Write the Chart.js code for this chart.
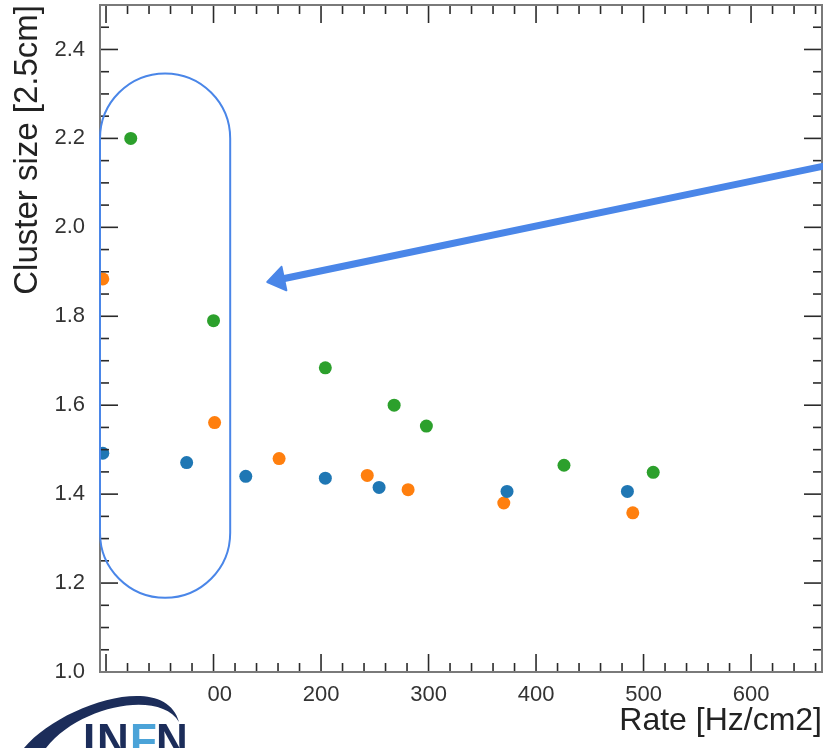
<!DOCTYPE html>
<html>
<head>
<meta charset="utf-8">
<script src="https://cdn.jsdelivr.net/npm/chart.js@4/dist/chart.umd.min.js"></script>
<style>
  html, body { margin: 0; padding: 0; background: #fff; }
  #wrap { width: 823px; height: 748px; }
</style>
</head>
<body>
<div id="wrap"><canvas id="clusterChart" width="823" height="748"></canvas></div>
<script>
// cluster size vs rate, three chambers
const blueRate = [-3, 75, 130, 204, 254, 373, 485];
const blueSize = [1.492, 1.471, 1.440, 1.436, 1.415, 1.406, 1.406];
const orangeRate = [-3, 101, 161, 243, 281, 370, 490];
const orangeSize = [1.884, 1.561, 1.480, 1.442, 1.410, 1.380, 1.358];
const greenRate = [23, 100, 204, 268, 298, 426, 509];
const greenSize = [2.200, 1.790, 1.684, 1.600, 1.553, 1.465, 1.449];

const xRange = [-5.6, 666];
const yRange = [1.0, 2.5];

// highlight box around the low-rate points and the arrow pointing at it (data units)
const ovalX = [-5.6, 115.5];
const ovalY = [1.167, 2.346];
const arrowFrom = [672, 2.14];
const arrowTo = [150, 1.877];

const FONT = '"Liberation Sans", Arial, Helvetica, sans-serif';

function toPoints(xs, ys) {
    return xs.map((x, i) => ({ x: x, y: ys[i] }));
}

function line(ctx, x1, y1, x2, y2) {
    ctx.beginPath();
    ctx.moveTo(x1, y1);
    ctx.lineTo(x2, y2);
    ctx.stroke();
}

// ROOT style frame with ticks on all four sides
const frameTicks = {
    id: 'frameTicks',
    afterDatasetsDraw(chart) {
        const { ctx, chartArea: a, scales: { x, y } } = chart;
        ctx.save();
        ctx.strokeStyle = '#2a2a2a';
        ctx.lineWidth = 1.6;
        x.ticks.forEach(t => {
            const px = x.getPixelForValue(t.value);
            const len = Math.round(t.value) % 100 === 0 ? 18 : 9;
            line(ctx, px, a.bottom, px, a.bottom - len);
            line(ctx, px, a.top, px, a.top + len);
        });
        y.ticks.forEach(t => {
            const py = y.getPixelForValue(t.value);
            const len = Math.round(t.value * 100) % 20 === 0 ? 18 : 9;
            line(ctx, a.left, py, a.left + len, py);
            line(ctx, a.right, py, a.right - len, py);
        });
        ctx.strokeStyle = '#7a7a7a';
        ctx.lineWidth = 2;
        ctx.strokeRect(a.left, a.top, a.right - a.left, a.bottom - a.top);
        ctx.restore();
    }
};

const overlay = {
    id: 'overlay',
    afterDraw(chart) {
        const { ctx, scales: { x, y } } = chart;
        ctx.save();

        // rounded highlight
        const l = x.getPixelForValue(ovalX[0]), r = x.getPixelForValue(ovalX[1]);
        const t = y.getPixelForValue(ovalY[1]), b = y.getPixelForValue(ovalY[0]);
        const rad = (r - l) / 2;
        ctx.strokeStyle = '#4a86e8';
        ctx.lineWidth = 2;
        ctx.beginPath();
        ctx.arc(l + rad, t + rad, rad, Math.PI, 0);
        ctx.lineTo(r, b - rad);
        ctx.arc(l + rad, b - rad, rad, 0, Math.PI);
        ctx.closePath();
        ctx.stroke();

        // arrow
        const x1 = x.getPixelForValue(arrowFrom[0]), y1 = y.getPixelForValue(arrowFrom[1]);
        const x2 = x.getPixelForValue(arrowTo[0]), y2 = y.getPixelForValue(arrowTo[1]);
        const ang = Math.atan2(y2 - y1, x2 - x1);
        const head = 17, half = 12;
        const bx = x2 - head * Math.cos(ang), by = y2 - head * Math.sin(ang);
        ctx.strokeStyle = '#4a86e8';
        ctx.fillStyle = '#4a86e8';
        ctx.lineWidth = 7;
        line(ctx, x1, y1, bx + 2 * Math.cos(ang), by + 2 * Math.sin(ang));
        ctx.lineJoin = 'round';
        ctx.lineWidth = 2;
        ctx.beginPath();
        ctx.moveTo(x2, y2);
        ctx.lineTo(bx + half * Math.sin(ang), by - half * Math.cos(ang));
        ctx.lineTo(bx - half * Math.sin(ang), by + half * Math.cos(ang));
        ctx.closePath();
        ctx.fill();
        ctx.stroke();

        // INFN logo in the lower left corner
        ctx.fillStyle = '#ffffff';
        ctx.fillRect(0, 679, 207, 69);
        ctx.fillStyle = '#1c2d5a';
        ctx.beginPath();
        ctx.moveTo(24, 748);
        ctx.bezierCurveTo(60, 705, 165, 670, 179, 722);
        ctx.bezierCurveTo(160, 690, 80, 705, 46, 748);
        ctx.closePath();
        ctx.fill();
        ctx.font = 'bold 44px ' + FONT;
        ctx.textBaseline = 'alphabetic';
        const letters = ['I', 'N', 'F', 'N'];
        const letterX = [83, 97, 130, 156];
        const cols = ['#1c2d5a', '#1c2d5a', '#4ba3d8', '#1c2d5a'];
        letters.forEach((ch, i) => {
            ctx.fillStyle = cols[i];
            ctx.fillText(ch, letterX[i], 755);
        });
        ctx.restore();
    }
};

const ctx = document.getElementById('clusterChart').getContext('2d');
const myChart = new Chart(ctx, {
    type: 'scatter',
    data: {
        datasets: [
            { label: 'blue', data: toPoints(blueRate, blueSize), backgroundColor: '#1f77b4' },
            { label: 'orange', data: toPoints(orangeRate, orangeSize), backgroundColor: '#ff7f0e' },
            { label: 'green', data: toPoints(greenRate, greenSize), backgroundColor: '#2ca02c' }
        ].map(d => Object.assign(d, { pointRadius: 6.5, pointHoverRadius: 6.5, borderWidth: 0, clip: 0 }))
    },
    options: {
        responsive: false,
        animation: false,
        layout: { autoPadding: false, padding: { top: 5, right: 1, left: 0, bottom: 0 } },
        plugins: { legend: { display: false }, tooltip: { enabled: false } },
        scales: {
            x: {
                type: 'linear',
                min: xRange[0],
                max: xRange[1],
                afterFit: s => { s.height = 76; s.paddingLeft = 0; s.paddingRight = 0; },
                grid: { display: false, drawTicks: false },
                border: { display: false },
                ticks: {
                    stepSize: 20,
                    includeBounds: false,
                    autoSkip: false,
                    maxRotation: 0,
                    padding: 10,
                    color: '#333',
                    font: { family: FONT, size: 22 },
                    callback: v => Math.round(v) % 100 === 0 ? String(Math.round(v)) : ''
                },
                title: {
                    display: true,
                    text: 'Rate [Hz/cm2]',
                    align: 'end',
                    color: '#222',
                    font: { family: FONT, size: 32 },
                    padding: { top: 0, bottom: 8 }
                }
            },
            y: {
                type: 'linear',
                min: yRange[0],
                max: yRange[1],
                afterFit: s => { s.width = 100; s.paddingTop = 0; s.paddingBottom = 0; },
                grid: { display: false, drawTicks: false },
                border: { display: false },
                ticks: {
                    stepSize: 0.05,
                    includeBounds: false,
                    autoSkip: false,
                    padding: 15,
                    color: '#333',
                    font: { family: FONT, size: 22 },
                    callback: v => Math.round(v * 100) % 20 === 0 ? v.toFixed(1) : ''
                },
                title: {
                    display: true,
                    text: 'Cluster size [2.5cm]',
                    align: 'end',
                    color: '#222',
                    font: { family: FONT, size: 33 },
                    padding: { top: 8, bottom: 0 }
                }
            }
        }
    },
    plugins: [frameTicks, overlay]
});
</script>
</body>
</html>
